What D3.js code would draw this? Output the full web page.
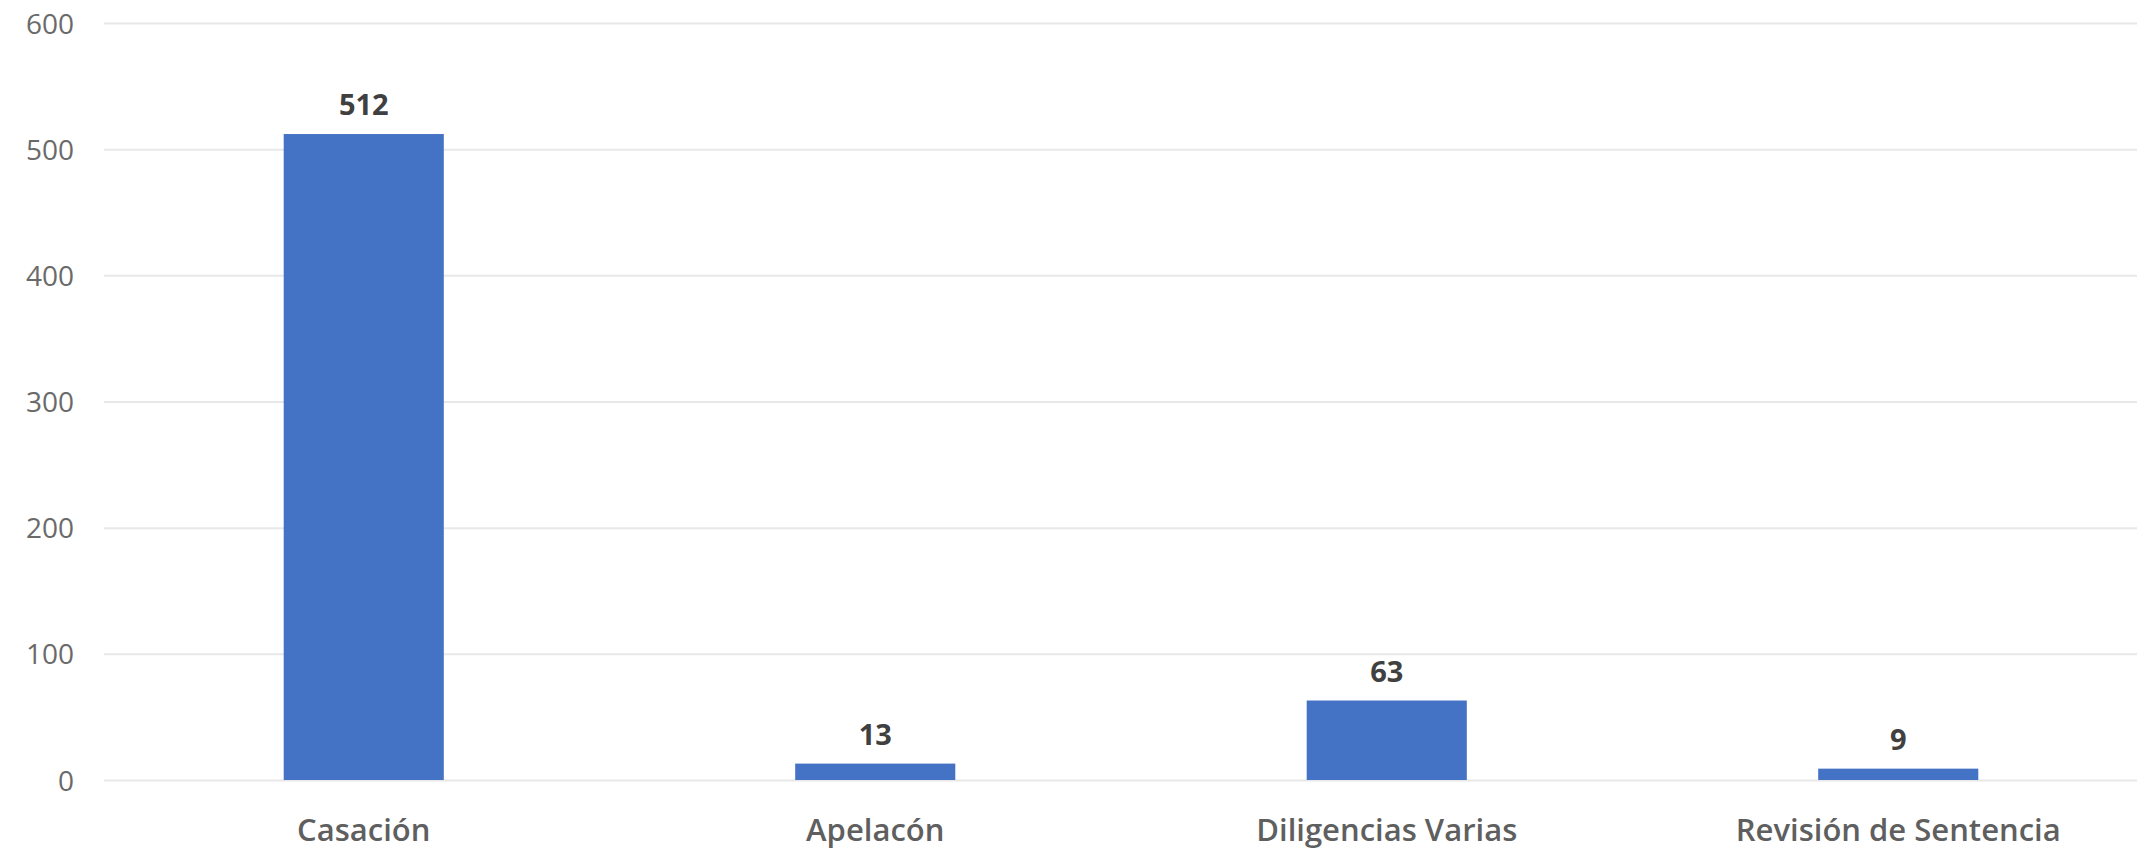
<!DOCTYPE html>
<html>
<head>
<meta charset="utf-8">
<script src="https://cdn.jsdelivr.net/npm/d3@7"></script>
<style>
  html, body { margin: 0; padding: 0; background: #ffffff; }
  svg { display: block; }
</style>
</head>
<body>
<div id="chart"></div>
<script>
const categories = ["Casación", "Apelacón", "Diligencias Varias", "Revisión de Sentencia"];
const values = [512, 13, 63, 9];
const yTicks = [0, 100, 200, 300, 400, 500, 600];

const W = 2137, H = 850;
const svg = d3.select("#chart").append("svg").attr("width", W).attr("height", H);

const x = d3.scaleBand().domain(categories).range([108, 2154]).paddingInner(0.687).paddingOuter(0.3435);
const y = d3.scaleLinear().domain([0, 600]).range([780, 23]);

const font = "'Open Sans', 'Liberation Sans', sans-serif";

// gridlines
svg.append("g")
  .attr("transform", "translate(104,0)")
  .call(d3.axisLeft(y).tickValues(yTicks).tickSize(-(W - 104)).tickFormat(""))
  .call(g => g.select(".domain").remove())
  .call(g => g.selectAll("line").attr("stroke", "#e8e8e8").attr("stroke-width", 2));

// y tick labels
svg.append("g")
  .attr("transform", "translate(74,0)")
  .call(d3.axisLeft(y).tickValues(yTicks).tickSize(0).tickPadding(0))
  .call(g => g.select(".domain").remove())
  .call(g => g.selectAll("text").attr("fill", "#6a6a6a").style("font-family", font).style("font-size", "28px").attr("dy", "0.36em"));

// bars
svg.append("g").selectAll("rect").data(values).join("rect")
  .attr("x", (d, i) => x(categories[i]))
  .attr("width", x.bandwidth())
  .attr("y", d => y(d))
  .attr("height", d => y(0) - y(d))
  .attr("fill", "#4472c4");

// value labels
svg.append("g").selectAll("text").data(values).join("text")
  .attr("x", (d, i) => x(categories[i]) + x.bandwidth() / 2)
  .attr("y", d => y(d) - 19)
  .attr("text-anchor", "middle")
  .attr("fill", "#404040")
  .style("font-family", font)
  .style("font-weight", "bold")
  .style("font-size", "29px")
  .text(d => d);

// x axis labels
svg.append("g")
  .attr("transform", "translate(0,841)")
  .call(d3.axisBottom(x).tickSize(0).tickPadding(0))
  .call(g => g.select(".domain").remove())
  .call(g => g.selectAll("text").attr("dy", 0).attr("fill", "#5f5f5f").style("font-family", font).style("font-size", "31px").style("font-weight", "600"));
</script>
</body>
</html>
